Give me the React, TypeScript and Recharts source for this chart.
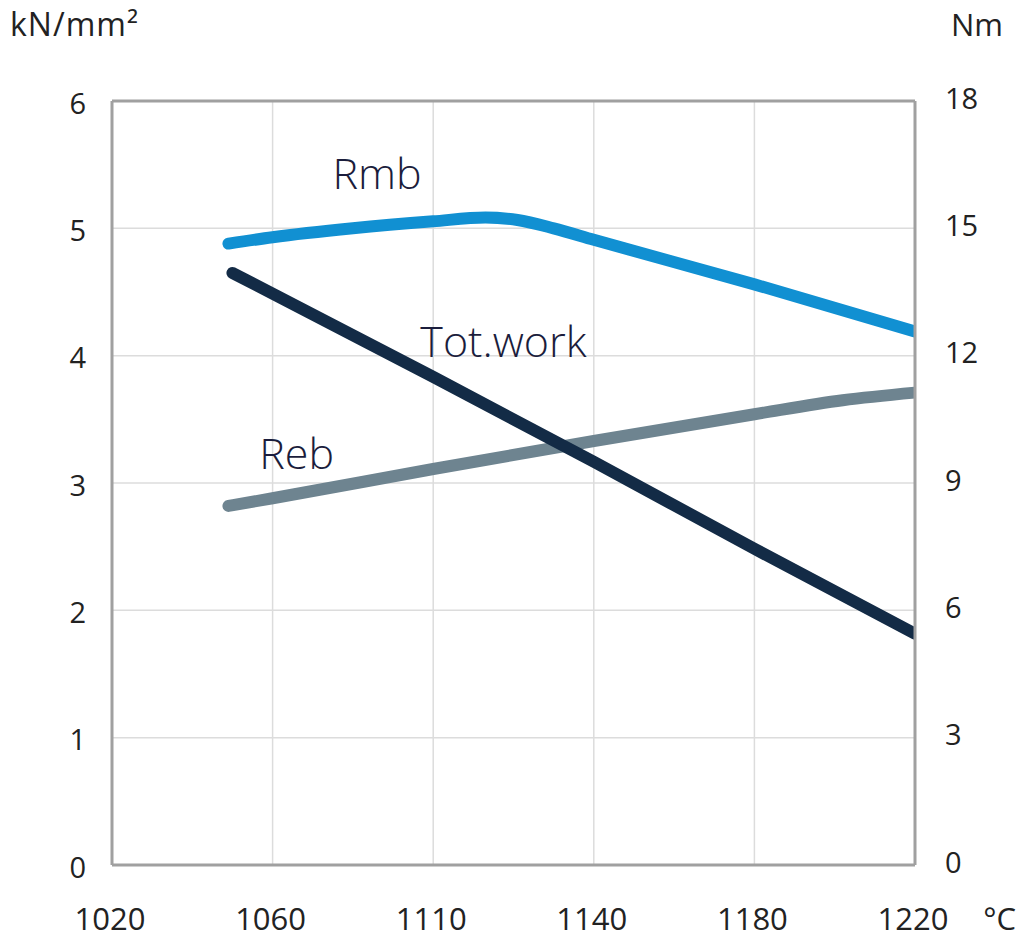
import React from "react"
import { LineChart, Line, XAxis, YAxis, CartesianGrid, ReferenceLine, ReferenceDot } from "recharts"

// temperature axis (labels as printed on the original sheet)
const xTicks = [1020, 1060, 1100, 1140, 1180, 1220]
const xTickLabels = ["1020", "1060", "1110", "1140", "1180", "1220"]
const leftTicks = [0, 1, 2, 3, 4, 5, 6]
const rightTicks = [0, 3, 6, 9, 12, 15, 18]

// Rmb (kN/mm2)
const rmbTemps = [1049, 1060, 1080, 1100, 1113, 1121, 1130, 1140, 1180, 1220]
const rmbValues = [4.88, 4.93, 5.0, 5.055, 5.085, 5.065, 5.0, 4.91, 4.56, 4.19]

// Reb (kN/mm2)
const rebTemps = [1049, 1060, 1100, 1140, 1180, 1202, 1220]
const rebValues = [2.82, 2.88, 3.11, 3.33, 3.54, 3.65, 3.71]

// Tot.work (Nm)
const workTemps = [1050, 1100, 1140, 1180, 1220]
const workValues = [13.95, 11.5, 9.5, 7.45, 5.45]

const rmbData = rmbTemps.map((t, i) => ({ t, v: rmbValues[i] }))
const rebData = rebTemps.map((t, i) => ({ t, v: rebValues[i] }))
const workData = workTemps.map((t, i) => ({ t, v: workValues[i] }))

const FONT = "'Open Sans', 'Noto Sans', sans-serif"
const BORDER = "#a0a0a0"

const LeftTick = ({ x, y, payload }: any) => (
    <text x={x - 26} y={y + 1} textAnchor="end" dominantBaseline="central" fontSize={29} fontFamily={FONT} fill="#222">
        {payload.value}
    </text>
)

const RightTick = ({ x, y, payload }: any) => (
    <text x={x + 30} y={y - 4} textAnchor="start" dominantBaseline="central" fontSize={29} fontFamily={FONT} fill="#222">
        {payload.value}
    </text>
)

const BottomTick = ({ x, y, payload, index }: any) => (
    <text x={x - 2} y={y + 53} textAnchor="middle" dominantBaseline="central" fontSize={31} fontFamily={FONT} fill="#222">
        {xTickLabels[index] ?? payload.value}
    </text>
)

const seriesLabel = (text: string) => (props: any) => (
    <text x={props.cx} y={props.cy} textAnchor="middle" dominantBaseline="central" fontSize={43} fontWeight={300} fontFamily={FONT} fill="#1b1d3c">
        {text}
    </text>
)

export default function App() {
    return (
        <div style={{ position: "absolute", left: 0, top: 0, width: 1024, height: 945, background: "#fff" }}>
            <LineChart width={1024} height={945} margin={{ top: 101, right: 0, bottom: 0, left: 0 }}>
                <CartesianGrid yAxisId="left" stroke="#dcdcdc" strokeWidth={1.5} />
                <XAxis
                    dataKey="t"
                    type="number"
                    domain={[1020, 1220]}
                    ticks={xTicks}
                    allowDataOverflow
                    height={80}
                    tickSize={0}
                    tickMargin={0}
                    tickLine={false}
                    axisLine={{ stroke: BORDER, strokeWidth: 3 }}
                    tick={<BottomTick />}
                />
                <YAxis
                    yAxisId="left"
                    domain={[0, 6]}
                    ticks={leftTicks}
                    width={112}
                    tickSize={0}
                    tickMargin={0}
                    tickLine={false}
                    axisLine={{ stroke: BORDER, strokeWidth: 3 }}
                    tick={<LeftTick />}
                />
                <YAxis
                    yAxisId="right"
                    orientation="right"
                    domain={[0, 18]}
                    ticks={rightTicks}
                    width={109}
                    tickSize={0}
                    tickMargin={0}
                    tickLine={false}
                    axisLine={{ stroke: BORDER, strokeWidth: 3 }}
                    tick={<RightTick />}
                />
                <ReferenceLine yAxisId="left" y={6} stroke={BORDER} strokeWidth={3} />

                <Line
                    data={rebData}
                    dataKey="v"
                    yAxisId="left"
                    type="monotone"
                    stroke="#6e8490"
                    strokeWidth={12}
                    strokeLinecap="round"
                    dot={false}
                    activeDot={false}
                    isAnimationActive={false}
                />
                <Line
                    data={workData}
                    dataKey="v"
                    yAxisId="right"
                    type="monotone"
                    stroke="#132b46"
                    strokeWidth={12}
                    strokeLinecap="round"
                    dot={false}
                    activeDot={false}
                    isAnimationActive={false}
                />
                <Line
                    data={rmbData}
                    dataKey="v"
                    yAxisId="left"
                    type="monotone"
                    stroke="#1190d2"
                    strokeWidth={12}
                    strokeLinecap="round"
                    dot={false}
                    activeDot={false}
                    isAnimationActive={false}
                />

                <ReferenceDot yAxisId="left" x={1086} y={5.44} r={0} shape={seriesLabel("Rmb")} />
                <ReferenceDot yAxisId="left" x={1117.5} y={4.12} r={0} shape={seriesLabel("Tot.work")} />
                <ReferenceDot yAxisId="left" x={1066} y={3.24} r={0} shape={seriesLabel("Reb")} />
            </LineChart>

            <svg width={1024} height={945} style={{ position: "absolute", left: 0, top: 0, pointerEvents: "none" }}>
                <text x={10} y={36} fontSize={32} letterSpacing={1} fontFamily={FONT} fill="#222">kN/mm²</text>
                <text x={1003} y={36} textAnchor="end" fontSize={31} fontFamily={FONT} fill="#222">Nm</text>
                <text x={1016} y={930} textAnchor="end" fontSize={31} fontFamily={FONT} fill="#222">°C</text>
            </svg>
        </div>
    )
}
